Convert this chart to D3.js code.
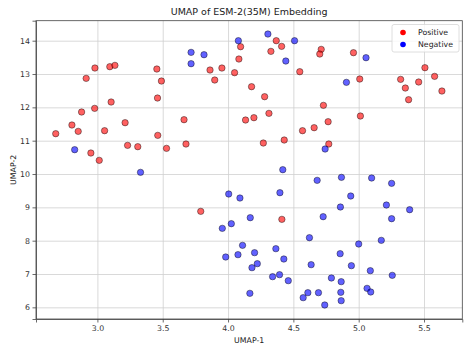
<!DOCTYPE html>
<html>
<head>
<meta charset="utf-8">
<script src="https://cdn.jsdelivr.net/npm/d3@7"></script>
<style>
  body { margin: 0; background: #fff; }
  text { font-family: "DejaVu Sans", sans-serif; fill: #222; }
  .grid line { stroke: #cfcfcf; stroke-width: 0.8; }
  .grid path { display: none; }
  .axis path, .axis line { stroke: #444; stroke-width: 0.8; }
  .axis text { font-size: 7.8px; fill: #333; }
</style>
</head>
<body>
<div id="chart"></div>
<script>
// points, [UMAP-1, UMAP-2]
var positive = [
  [2.681,11.21],[2.805,11.47],[2.853,11.28],[2.879,11.86],[2.914,12.87],[2.981,13.18],
  [2.979,11.97],[2.950,10.63],[3.014,10.41],[3.055,11.30],[3.105,12.16],[3.095,13.22],
  [3.134,13.26],[3.212,11.54],[3.231,10.86],[3.309,10.82],[3.455,13.15],[3.490,12.79],
  [3.460,12.28],[3.462,11.16],[3.529,10.77],[3.663,11.63],[3.678,10.90],[3.862,13.12],
  [3.898,12.82],[3.953,13.18],[4.050,13.04],[4.096,13.82],[4.083,13.45],[4.134,11.62],
  [4.180,12.62],[4.280,12.32],[4.198,11.69],[4.313,11.82],[4.270,10.93],[4.430,11.02],
  [4.369,14.00],[4.328,13.68],[4.410,13.83],[4.549,13.07],[4.713,13.74],[4.702,13.60],
  [4.960,13.64],[4.730,12.06],[5.008,12.85],[5.013,11.74],[4.570,11.30],[4.659,11.39],
  [4.766,11.57],[4.771,10.90],[5.321,12.84],[5.357,12.58],[5.382,12.23],[5.459,12.76],
  [5.507,13.19],[5.581,12.93],[5.637,12.49],[3.791,8.88],[4.412,8.64]
];
var negative = [
  [2.826,10.73],[3.330,10.05],[3.717,13.65],[3.717,13.31],[3.816,13.58],[4.079,14.00],
  [4.305,14.20],[4.509,14.00],[4.442,13.39],[5.056,13.49],[4.906,12.75],[4.743,10.75],
  [4.419,10.13],[4.682,9.81],[4.868,9.90],[5.099,9.88],[5.252,9.72],[4.005,9.40],
  [4.091,9.28],[4.025,8.51],[3.956,8.37],[4.111,7.86],[4.076,7.58],[3.982,7.51],
  [4.397,9.44],[4.939,9.34],[4.860,9.01],[5.212,9.07],[5.390,8.93],[5.252,8.66],
  [4.170,8.69],[4.728,8.72],[4.623,8.09],[5.000,7.90],[5.173,8.01],[4.203,7.64],
  [4.366,7.76],[4.427,7.45],[4.224,7.31],[4.183,7.19],[4.858,7.61],[4.636,7.28],
  [4.944,7.25],[5.089,7.10],[5.257,6.96],[4.341,6.92],[4.394,6.98],[4.461,6.80],
  [4.791,6.88],[4.866,6.77],[4.167,6.42],[4.575,6.29],[4.611,6.44],[4.692,6.44],
  [4.863,6.45],[5.064,6.57],[5.092,6.46],[4.740,6.07],[4.866,6.20]
];
var xTicks = [3.0, 3.5, 4.0, 4.5, 5.0, 5.5];
var yTicks = [6, 7, 8, 9, 10, 11, 12, 13, 14];
var labels = ["Positive", "Negative"];
var colors = ["#ff0000", "#0000ff"];

var w = 471;
var h = 353;
var margin = {top: 20.7, right: 8.7, bottom: 34, left: 36};

var xScale = d3.scaleLinear()
               .domain([2.53, 5.793])
               .range([margin.left, w - margin.right]);
var yScale = d3.scaleLinear()
               .domain([5.65, 14.6])
               .range([h - margin.bottom, margin.top]);

var svg = d3.select("#chart")
            .append("svg")
            .attr("width", w)
            .attr("height", h);

// gridlines
svg.append("g")
   .attr("class", "grid")
   .attr("transform", "translate(0," + (h - margin.bottom) + ")")
   .call(d3.axisBottom(xScale).tickValues(xTicks)
        .tickSize(-(h - margin.top - margin.bottom)).tickFormat(""));
svg.append("g")
   .attr("class", "grid")
   .attr("transform", "translate(" + margin.left + ",0)")
   .call(d3.axisLeft(yScale).tickValues(yTicks)
        .tickSize(-(w - margin.left - margin.right)).tickFormat(""));

// scatter points, positives first then negatives
var groups = [positive, negative];
groups.forEach(function(pts, i) {
    svg.append("g")
       .selectAll("circle")
       .data(pts)
       .enter()
       .append("circle")
       .attr("cx", function(d) { return xScale(d[0]); })
       .attr("cy", function(d) { return yScale(d[1]); })
       .attr("r", 3.2)
       .attr("fill", colors[i])
       .attr("fill-opacity", 0.62)
       .attr("stroke", "#000")
       .attr("stroke-opacity", 0.6)
       .attr("stroke-width", 0.7);
});

// axes
svg.append("g")
   .attr("class", "axis")
   .attr("transform", "translate(0," + (h - margin.bottom) + ")")
   .call(d3.axisBottom(xScale).tickValues(xTicks).tickSize(3.5).tickPadding(2.5)
        .tickFormat(d3.format(".1f")));
svg.append("g")
   .attr("class", "axis")
   .attr("transform", "translate(" + margin.left + ",0)")
   .call(d3.axisLeft(yScale).tickValues(yTicks).tickSize(3.5).tickPadding(2.5));

// frame on top and right
svg.append("rect")
   .attr("x", margin.left)
   .attr("y", margin.top)
   .attr("width", w - margin.left - margin.right)
   .attr("height", h - margin.top - margin.bottom)
   .attr("fill", "none")
   .attr("stroke", "#444")
   .attr("stroke-width", 0.8);

// title and axis labels
svg.append("text")
   .attr("x", (margin.left + w - margin.right) / 2)
   .attr("y", 15)
   .attr("text-anchor", "middle")
   .style("font-size", "9.5px")
   .text("UMAP of ESM-2(35M) Embedding");
svg.append("text")
   .attr("x", (margin.left + w - margin.right) / 2)
   .attr("y", 343)
   .attr("text-anchor", "middle")
   .style("font-size", "7.8px")
   .text("UMAP-1");
svg.append("text")
   .attr("transform", "translate(16," + ((margin.top + h - margin.bottom) / 2) + ") rotate(-90)")
   .attr("text-anchor", "middle")
   .style("font-size", "7.8px")
   .text("UMAP-2");

// legend
var legend = svg.append("g").attr("transform", "translate(392,24.5)");
legend.append("rect")
      .attr("width", 67)
      .attr("height", 27.5)
      .attr("rx", 2)
      .attr("fill", "#fff")
      .attr("fill-opacity", 0.8)
      .attr("stroke", "#d5d5d5")
      .attr("stroke-width", 0.8);
legend.selectAll("circle")
      .data(labels)
      .enter()
      .append("circle")
      .attr("cx", 11)
      .attr("cy", function(d, i) { return 8 + i * 12; })
      .attr("r", 2.8)
      .attr("fill", function(d, i) { return colors[i]; });
legend.selectAll("text.lbl")
      .data(labels)
      .enter()
      .append("text")
      .attr("class", "lbl")
      .attr("x", 26)
      .attr("y", function(d, i) { return 8 + i * 12; })
      .attr("dy", "0.35em")
      .style("font-size", "7.8px")
      .text(function(d) { return d; });
</script>
</body>
</html>
